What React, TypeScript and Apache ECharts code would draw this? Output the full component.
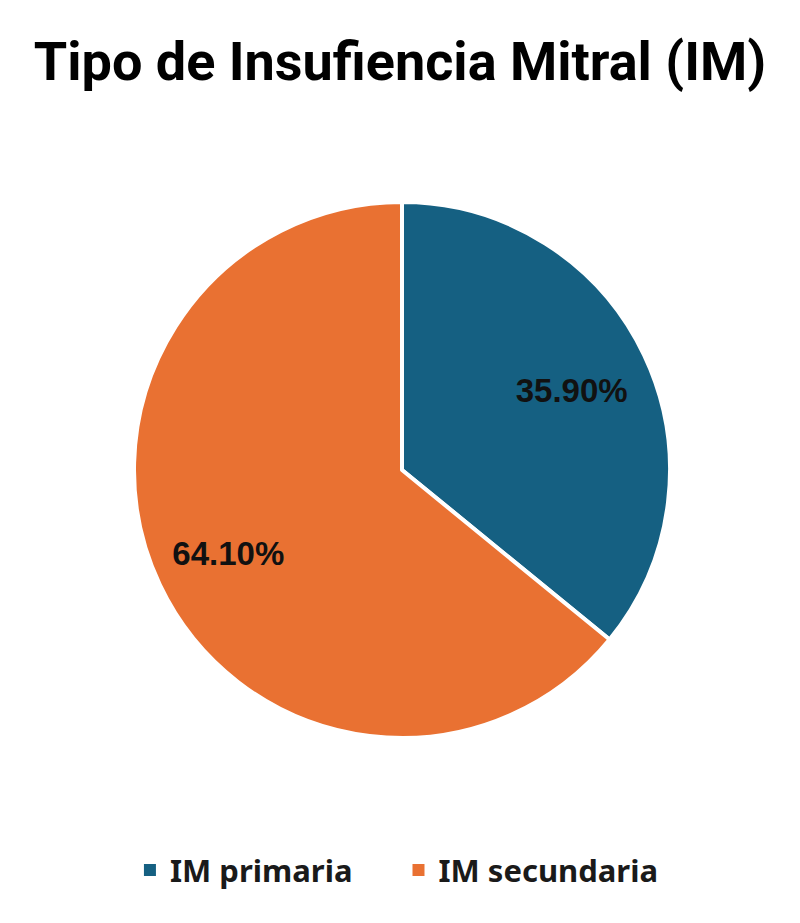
import { useEffect, useRef } from 'react';
import * as echarts from 'echarts';

const TITLE = 'Tipo de Insufiencia Mitral (IM)';
const categories = ['IM primaria', 'IM secundaria'];
const shares = [35.9, 64.1];
const colors = ['#156082', '#E97132'];

export default function App() {
  const chartRef = useRef<HTMLDivElement>(null);

  useEffect(() => {
    if (!chartRef.current) return;
    const chart = echarts.init(chartRef.current, undefined, { renderer: 'svg' });

    const data = categories.map((name, i) => ({
      name,
      value: shares[i],
      itemStyle: { color: colors[i] },
    }));

    const option: echarts.EChartsOption = {
      animation: false,
      backgroundColor: '#ffffff',
      title: {
        text: TITLE,
        left: 'center',
        top: 29,
        textStyle: {
          fontFamily: 'Roboto, sans-serif',
          fontWeight: 'bold',
          fontSize: 54,
          color: '#000000',
        },
      },
      legend: {
        top: 848,
        left: 'center',
        icon: 'rect',
        itemWidth: 14,
        itemHeight: 14,
        itemGap: 58,
        textStyle: {
          fontFamily: '"Noto Sans", sans-serif',
          fontWeight: 'bold',
          fontSize: 31,
          lineHeight: 34,
          color: '#1a1a1a',
          padding: [0, 0, 0, 8],
        },
        data: categories,
      },
      series: [
        {
          type: 'pie',
          center: [402, 470],
          radius: [0, 268],
          startAngle: 90,
          clockwise: true,
          silent: true,
          itemStyle: { borderColor: '#ffffff', borderWidth: 4 },
          label: { show: false },
          labelLine: { show: false },
          data,
        },
        {
          // transparent ring used only to place the percentage labels
          type: 'pie',
          center: [400, 472],
          radius: [106, 268],
          startAngle: 90,
          clockwise: true,
          silent: true,
          legendHoverLink: false,
          itemStyle: { color: 'transparent', borderWidth: 0 },
          label: {
            show: true,
            position: 'inside',
            formatter: (p: any) => p.value.toFixed(2) + '%',
            fontFamily: '"Liberation Sans", Arial, sans-serif',
            fontWeight: 'bold',
            fontSize: 33,
            color: '#111111',
          },
          labelLine: { show: false },
          data: categories.map((name, i) => ({ name: name + ' ', value: shares[i] })),
        },
      ],
    };

    chart.setOption(option);
    return () => chart.dispose();
  }, []);

  return (
    <div
      ref={chartRef}
      style={{ position: 'absolute', left: 0, top: 0, width: 800, height: 923 }}
    />
  );
}
